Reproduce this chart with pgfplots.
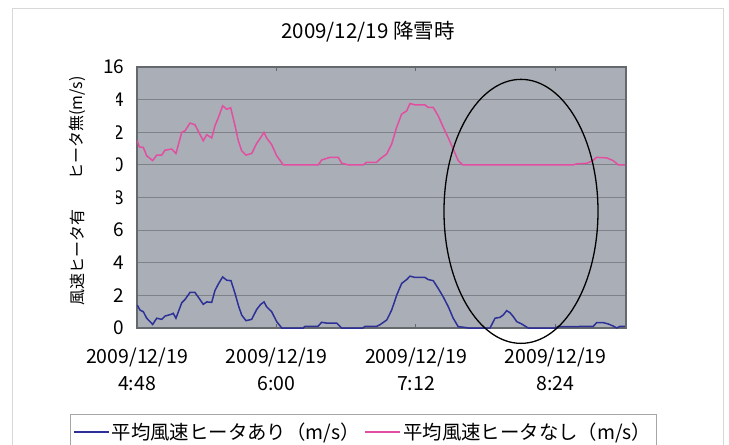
\documentclass[border=0pt]{standalone}
\usepackage{pgfplots}
\pgfplotsset{compat=1.18}
\usepackage{fontspec}
\setmainfont{Noto Sans CJK JP}
\definecolor{plotbg}{RGB}{170,175,183}
\definecolor{gridc}{RGB}{126,130,136}
\definecolor{framec}{RGB}{216,216,216}
\definecolor{blueL}{RGB}{45,48,150}
\definecolor{pinkL}{RGB}{226,78,160}
\begin{document}
\begin{tikzpicture}
\useasboundingbox (0bp,0bp) rectangle (729bp,445bp);
\draw[framec, line width=1bp] (12bp,-10bp) rectangle (723bp,436bp);
\begin{axis}[
  at={(137bp,117bp)}, anchor=south west,
  scale only axis, width=489bp, height=261bp,
  xmin=0, xmax=252.4, ymin=0, ymax=16,
  clip=false,
  axis background/.style={fill=plotbg},
  axis line style={draw=gridc!80!black, line width=1.2bp},
  ymajorgrids, grid style={draw=gridc, line width=0.9bp},
  tick align=inside, major tick length=4bp,
  xtick style={draw=gridc!80!black, line width=1bp},
  ytick style={draw=none},
  ytick={0,2,...,16},
  /pgf/number format/assume math mode=true,
  yticklabel style={font=\fontsize{19bp}{22bp}\selectfont, xshift=-9bp},
  xtick={0,72,144,216},
  xticklabels={{2009/12/19\\4:48},{2009/12/19\\6:00},{2009/12/19\\7:12},{2009/12/19\\8:24}},
  xticklabel style={align=center, yshift=-16bp, font=\fontsize{19.5bp}{27bp}\selectfont},
  legend style={at={(-0.137,-0.3295)}, anchor=north west, draw=gray!70, fill=white,
    legend columns=2, font=\fontsize{19.4bp}{23bp}\selectfont, inner xsep=3bp, inner ysep=7bp,
    /tikz/every even column/.append style={column sep=3bp}},
  legend cell align=left,
  legend image code/.code={\draw[#1] (0bp,0bp) -- (35bp,0bp);},
]
\addplot[blueL, line width=1.5bp] coordinates {
(0.15,1.4)(1.55,1.1)(3.25,1.0)(5.0,0.6)(8.1,0.22)(10.17,0.6)(12.75,0.53)(14.45,0.73)
(17.9,0.85)(18.7,0.9)(20.1,0.6)(23.1,1.55)(24.8,1.75)(27.35,2.18)(29.9,2.18)(31.6,1.9)
(34.2,1.45)(36.0,1.6)(38.55,1.57)(40.25,2.3)(42.0,2.7)(44.2,3.13)(46.3,2.93)(48.5,2.9)
(50.6,2.12)(52.3,1.4)(54.0,0.8)(56.25,0.45)(59.2,0.53)(61.8,1.14)(63.85,1.45)(65.55,1.6)
(66.9,1.3)(69.5,1.0)(72.1,0.39)(74.7,0)(85.8,0)(86.7,0.1)(93.4,0.1)(95.3,0.35)
(97.9,0.3)(103.1,0.3)(105.65,0)(116.6,0)(117.7,0.1)(123.7,0.1)(125.4,0.2)(128.9,0.49)
(131.45,1.1)(134.0,2.0)(136.6,2.73)(139.2,2.97)(140.9,3.18)(143.5,3.1)(148.6,3.1)
(150.3,2.97)(152.9,2.9)(155.5,2.42)(158.1,1.9)(160.7,1.3)(163.2,0.6)(165.8,0.08)
(168.4,0.05)(171.0,0)(182.2,0)(184.8,0.6)(187.3,0.65)(189.05,0.8)(190.8,1.06)(192.5,0.94)
(194.2,0.7)(196.0,0.39)(198.5,0.25)(200.25,0.12)(201.95,0)(215.7,0)(217.3,0.08)(235.5,0.1)
(237.25,0.33)(240.65,0.33)(243.2,0.25)(245.8,0.12)(247.6,0)(249.3,0.1)(251.85,0.1)
};
\addlegendentry{平均風速ヒータあり（m/s）}
\addplot[pinkL, line width=1.5bp] coordinates {
(0.15,11.48)(1.2,11.1)(3.25,11.07)(5.0,10.56)(8.1,10.26)(10.17,10.6)(12.75,10.6)(14.45,10.9)
(17.9,10.97)(20.1,10.7)(23.1,11.99)(24.8,12.09)(27.35,12.56)(29.9,12.46)(34.2,11.48)
(36.0,11.85)(38.55,11.65)(40.25,12.4)(42.0,12.9)(44.2,13.62)(46.3,13.41)(48.35,13.5)
(50.6,12.4)(52.3,11.48)(54.0,10.87)(56.25,10.6)(59.2,10.7)(61.8,11.32)(63.85,11.68)
(65.55,11.99)(66.9,11.65)(69.5,11.24)(72.1,10.56)(75.5,10.0)(93.6,10.0)(95.3,10.3)
(99.6,10.46)(103.9,10.46)(105.65,10.1)(109.05,10.0)(116.8,10.0)(118.55,10.16)(123.7,10.16)
(125.4,10.36)(128.9,10.67)(131.45,11.28)(134.0,12.3)(136.6,13.11)(139.2,13.31)(140.9,13.76)
(143.5,13.68)(148.6,13.68)(150.3,13.52)(152.9,13.52)(155.5,13.0)(158.1,12.3)(160.7,11.65)
(163.2,10.97)(165.8,10.26)(168.1,10.0)(225.2,10.0)(226.9,10.06)(232.1,10.1)(234.7,10.22)
(237.25,10.46)(242.4,10.43)(245.8,10.26)(248.4,10.0)(251.85,10.0)
};
\addlegendentry{平均風速ヒータなし（m/s）}
\draw[black, line width=1.3bp] (axis cs:198.2,7.15) ellipse [x radius=77bp, y radius=132bp];
\end{axis}
\node[font=\fontsize{20.5bp}{24bp}\selectfont] at (368bp,413bp) {2009/12/19 降雪時};
\fill[white] (64bp,233bp) rectangle (116bp,361bp);
\node[rotate=90, font=\fontsize{16bp}{20bp}\selectfont] at (77bp,317bp) {ヒータ無(m/s)};
\node[rotate=90, font=\fontsize{16bp}{20bp}\selectfont] at (77bp,187bp) {風速ヒータ有};
\end{tikzpicture}
\end{document}
